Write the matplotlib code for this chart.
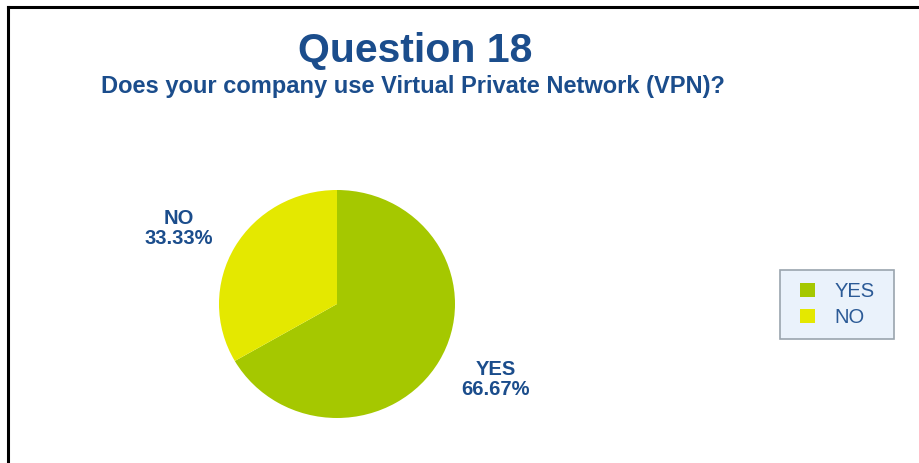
import numpy as np
import matplotlib
matplotlib.use("Agg")
import matplotlib.pyplot as plt
from matplotlib.lines import Line2D
from matplotlib.patches import Rectangle

plt.rcParams['font.family'] = ['Liberation Sans', 'DejaVu Sans']

# Survey answers
categories = ["YES", "NO"]
shares = [66.67, 33.33]
colors = ["#a5c800", "#e4e800"]

title = "Question 18"
subtitle = "Does your company use Virtual Private Network (VPN)?"

W, H = 920, 463
fig = plt.figure(figsize=(W / 100, H / 100), dpi=100)
fig.patch.set_facecolor("white")

text_blue = "#1b4d8c"

# Frame lines along top and left edge
fig.add_artist(Line2D([8 / W, 1.0], [1 - 7 / H, 1 - 7 / H], color="black", lw=2.2,
                      transform=fig.transFigure))
fig.add_artist(Line2D([8 / W, 8 / W], [0, 1 - 7 / H], color="black", lw=2.2,
                      transform=fig.transFigure))

fig.text(415 / W, 1 - 51 / H, title, ha="center", va="center", fontsize=29.5,
         fontweight="bold", color=text_blue)
fig.text(412.5 / W, 1 - 86 / H, subtitle, ha="center", va="center", fontsize=17,
         fontweight="bold", color=text_blue)

# Pie axes (in pixel units; slightly wider than tall)
cx, cy, rx, ry = 337, 304, 118, 114
ax = fig.add_axes([(cx - rx) / W, (H - cy - ry) / H, 2 * rx / W, 2 * ry / H])
wedges, _ = ax.pie(shares, colors=colors, startangle=90, counterclock=False,
                   radius=1.0, wedgeprops=dict(linewidth=0))
ax.set_xlim(-1, 1)
ax.set_ylim(-1, 1)
ax.set_aspect("auto")
ax.axis("off")

for w, cat, val in zip(wedges, categories, shares):
    mid = np.deg2rad((w.theta1 + w.theta2) / 2)
    x, y = 1.55 * np.cos(mid), 1.32 * np.sin(mid)
    ax.text(x, y, f"{cat}\n{val:.2f}%", ha="center", va="center", fontsize=14.5,
            fontweight="bold", color=text_blue, linespacing=1.1, clip_on=False)

# Legend box
fig.add_artist(Rectangle((780 / W, 1 - 339 / H), 114 / W, 69 / H,
                         transform=fig.transFigure, facecolor="#eaf2fb",
                         edgecolor="#9aa4ae", linewidth=1.2, zorder=1))
leg = fig.legend(wedges, categories, loc="center",
                 bbox_to_anchor=(837.5 / W, 1 - 304.5 / H),
                 frameon=False,
                 handlelength=0.74, handleheight=0.74, handletextpad=0.95,
                 labelspacing=0.35, borderpad=0, borderaxespad=0,
                 prop=dict(size=14.5), labelcolor="#2b5a96")
leg.set_zorder(2)

fig.savefig("out.png", dpi=100, facecolor="white")
